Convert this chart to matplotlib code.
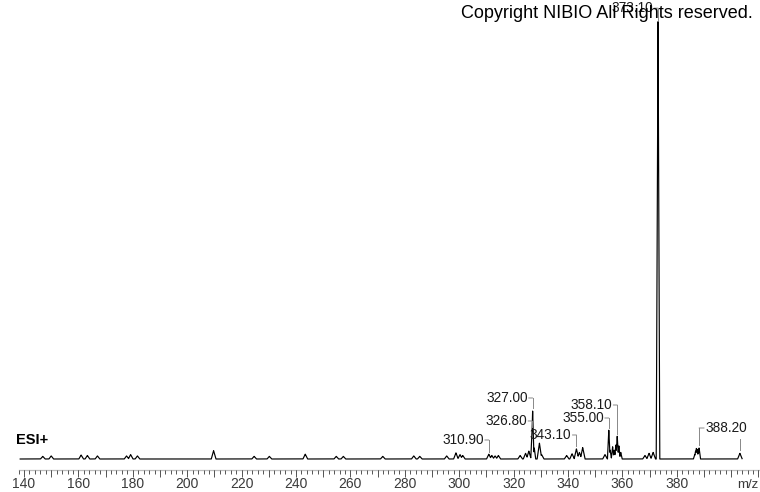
import numpy as np
import matplotlib
matplotlib.use('Agg')
import matplotlib.pyplot as plt
from matplotlib.transforms import offset_copy

plt.rcParams['font.family'] = ['Liberation Sans', 'DejaVu Sans']

# peak list (m/z, relative intensity %)
peak_mz = [146.9, 150.0, 161.0, 163.3, 167.0, 177.7, 179.2, 181.7, 209.7, 224.6,
           230.2, 243.4, 254.8, 257.4, 271.9, 283.3, 285.5, 295.4, 298.8, 300.3,
           301.3, 310.9, 312.0, 313.2, 314.4, 322.4, 324.4, 325.6, 326.8, 327.0,
           327.6, 329.5, 330.3, 339.5, 341.5, 343.1, 344.2, 345.4, 353.6, 355.0,
           355.5, 356.4, 357.0, 357.6, 358.1, 358.7, 359.4, 368.3, 369.8, 371.3,
           373.05, 373.1, 386.6, 386.9, 387.2, 387.5, 387.9, 388.2, 403.2]
peak_int = [0.6, 0.7, 0.9, 0.8, 0.7, 0.7, 1.0, 0.7, 1.9, 0.6,
            0.6, 1.1, 0.6, 0.6, 0.6, 0.7, 0.6, 0.7, 1.4, 1.0,
            0.8, 1.1, 0.8, 0.7, 0.8, 0.8, 1.3, 1.8, 6.2, 11.0,
            2.5, 3.6, 1.0, 0.8, 1.2, 2.3, 1.5, 2.6, 1.0, 6.6,
            2.0, 2.8, 2.0, 3.2, 5.2, 3.0, 1.5, 0.8, 1.3, 1.5,
            82.0, 100.0, 1.0, 1.8, 2.4, 2.2, 1.6, 2.5, 1.3]

label_mz = [310.9, 327.0, 326.8, 343.1, 355.0, 358.1, 373.1, 388.2]
label_txt = ['310.90', '327.00', '326.80', '343.10', '355.00', '358.10', '373.10', '388.20']
label_y = [4.33, 13.9, 8.66, 5.47, 9.34, 12.3, 102.7, 7.06]   # text height (layout)
label_side = ['l', 'l', 'l', 'l', 'l', 'l', 'l', 'r']

# peak half widths (drawing style)
peak_w = []
for m, h in zip(peak_mz, peak_int):
    if h > 50:
        w = 0.62
    elif 386 < m < 389 or 326 < m < 328 or 354.5 < m < 360:
        w = 0.5
    elif 311.5 < m < 315:
        w = 0.8
    else:
        w = 0.85
    peak_w.append(w)

# profile
mz = np.linspace(138.6, 404.0, 30000)
prof = np.zeros_like(mz)
for m, h, w in zip(peak_mz, peak_int, peak_w):
    tri = h * np.clip(1 - np.abs(mz - m) / w, 0, None)
    prof = np.maximum(prof, tri)

fig = plt.figure(figsize=(7.6, 4.92), dpi=100)
ax = fig.add_axes([0, 0, 1, 1])
ax.set_xlim(140 - 24 / 2.72, 140 + 736 / 2.72)
ax.set_ylim(-33 / 4.39, 459 / 4.39)
ax.axis('off')

ax.plot(mz, prof, color='black', lw=0.85)

def ypx(p):  # pixel row from top -> axes fraction
    return (492 - p) / 492

# ruler
xt = ax.get_xaxis_transform()
ax.plot([138, 411], [ypx(469.5)] * 2, color='#bdbdbd', lw=0.9, transform=xt)
minor = np.arange(138, 412, 2)
ax.vlines(minor, ypx(470), ypx(473.5), color='#555555', lw=0.7, transform=xt)
major = np.arange(140, 411, 10)
ax.vlines(major, ypx(470), ypx(476.5), color='#555555', lw=0.7, transform=xt)
for v in np.arange(140, 400, 20):
    ax.text(v, ypx(484.5), str(v), ha='center', va='center', fontsize=10,
            color='#3a3a3a', transform=xt)
ax.text(758 / 760, ypx(484.5), 'm/z', ha='right', va='center', fontsize=9.5,
        color='#3a3a3a', transform=ax.transAxes)

# peak labels
for m, t, ly, side in zip(label_mz, label_txt, label_y, label_side):
    top = np.interp(m, mz, prof) + 0.6
    ax.plot([m, m], [top, ly], color='#888888', lw=0.7)
    if side == 'l':
        ax.annotate('', xy=(m, ly), xytext=(-4, 0), textcoords='offset pixels',
                    arrowprops=dict(arrowstyle='-', color='#888888', lw=0.7,
                                    shrinkA=0, shrinkB=0))
        ax.text(m, ly, t, ha='right', va='center', fontsize=9.8, color='#1a1a1a',
                transform=offset_copy(ax.transData, fig, x=-5, units='dots'))
    else:
        ax.annotate('', xy=(m, ly), xytext=(5, 0), textcoords='offset pixels',
                    arrowprops=dict(arrowstyle='-', color='#888888', lw=0.7,
                                    shrinkA=0, shrinkB=0))
        ax.text(m, ly, t, ha='left', va='center', fontsize=9.8, color='#1a1a1a',
                transform=offset_copy(ax.transData, fig, x=6, units='dots'))

# unlabelled connector at the right end
m_r = 403.2
ax.plot([m_r, m_r], [np.interp(m_r, mz, prof) + 0.8, 4.6], color='#888888', lw=0.7)

ax.text(16 / 760, ypx(440), 'ESI+', ha='left', va='center', fontsize=10.5,
        weight='bold', color='black', transform=ax.transAxes)
ax.text(753 / 760, ypx(13), 'Copyright NIBIO All Rights reserved.', ha='right',
        va='center', fontsize=13, color='black', transform=ax.transAxes)

fig.savefig('out.png', dpi=100, facecolor='white')
